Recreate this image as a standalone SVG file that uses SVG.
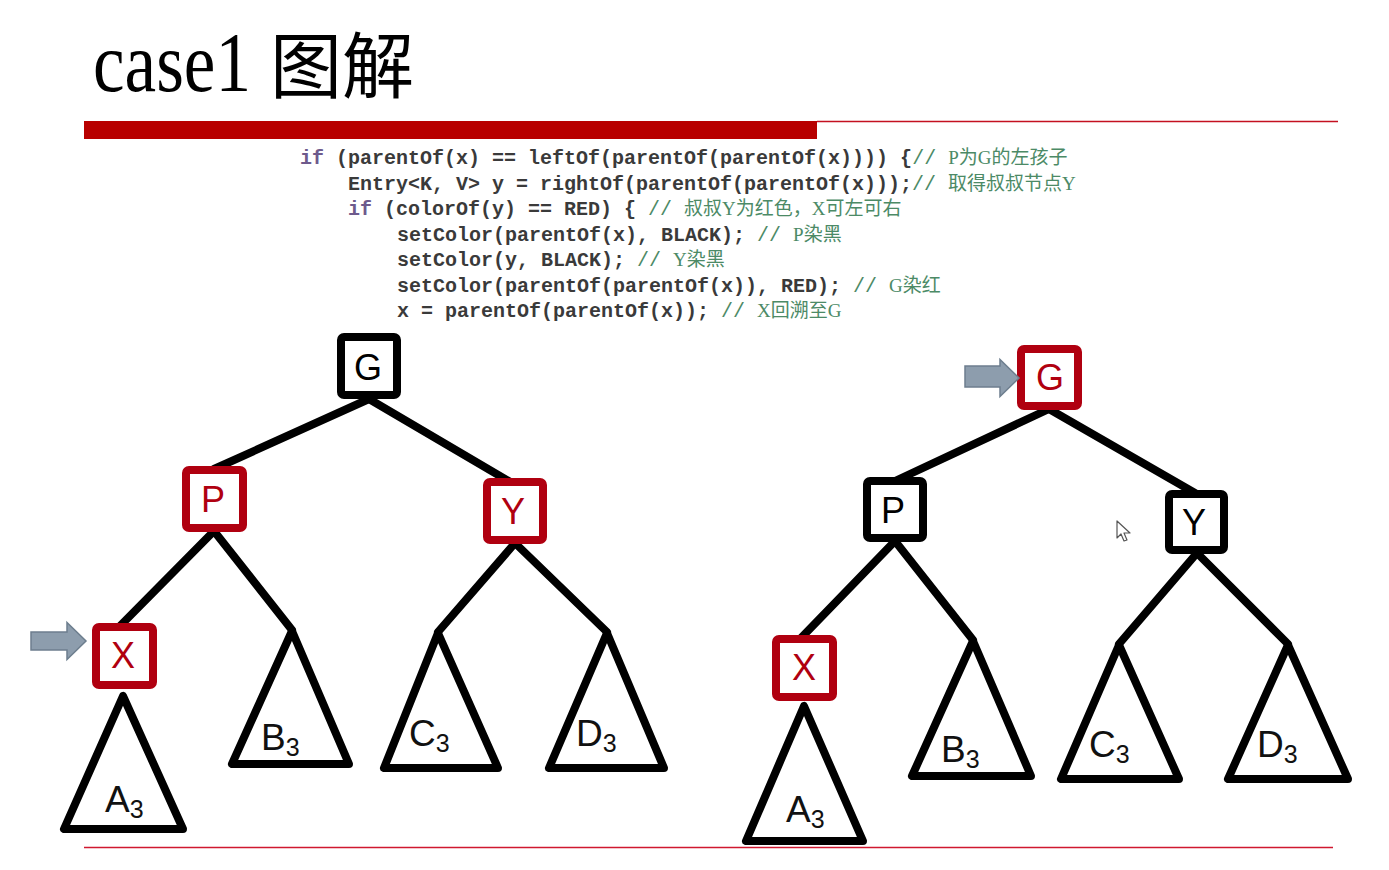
<svg xmlns="http://www.w3.org/2000/svg" width="1389" height="870" viewBox="0 0 1389 870">
<style>
.code{font-family:"Liberation Mono","Noto Sans CJK SC",monospace;font-size:20px;font-weight:bold;fill:#3a3a3a}
.kw{fill:#6e5a8c}
.cm{fill:#4c8a66;font-weight:normal}
.cmt{fill:#4c8a66;font-weight:normal;font-family:"Liberation Serif","Noto Sans CJK SC",serif;font-size:19px}
.box{fill:#fff;stroke-width:8;stroke-linejoin:round}
.blk{stroke:#000}
.red{stroke:#b00010}
.lbl{font-family:"Liberation Sans",Arial,sans-serif;font-size:36px;text-anchor:middle}
.lb{fill:#000}
.lr{fill:#b00010}
.edge{stroke:#000;stroke-width:8;stroke-linecap:round;fill:none}
.tri{fill:#fff;stroke:#000;stroke-width:8;stroke-linejoin:round}
.sub{font-family:"Liberation Sans",Arial,sans-serif;font-size:37px;fill:#111}
.sub tspan.n{font-size:25px}
.ptr{fill:#8d9dad;stroke:#6d7e8e;stroke-width:1.5}
</style>

<!-- title -->
<text x="93" y="91" fill="#000" font-family="Liberation Serif, serif" font-size="84" textLength="158" lengthAdjust="spacingAndGlyphs">case1</text>
<text x="270" y="92" fill="#000" font-family="Noto Sans CJK SC, sans-serif" font-size="72">图解</text>
<rect x="84" y="121" width="733" height="18" fill="#b80000"/>
<line x1="817" y1="121.5" x2="1338" y2="121.5" stroke="#c41020" stroke-width="1.5"/>
<line x1="84" y1="847.5" x2="1333" y2="847.5" stroke="#d01830" stroke-width="1.5"/>

<!-- code -->
<g id="code" class="code">
<text y="164"><tspan x="300" class="kw">if</tspan> (parentOf(x) == leftOf(parentOf(parentOf(x)))) {<tspan class="cm">// </tspan><tspan class="cmt">P为G的左孩子</tspan></text>
<text y="190"><tspan x="348">Entry&lt;K, V&gt; y = rightOf(parentOf(parentOf(x)));</tspan><tspan class="cm">// </tspan><tspan class="cmt">取得叔叔节点Y</tspan></text>
<text y="215"><tspan x="348" class="kw">if</tspan> (colorOf(y) == RED) { <tspan class="cm">// </tspan><tspan class="cmt">叔叔Y为红色，X可左可右</tspan></text>
<text y="241"><tspan x="397">setColor(parentOf(x), BLACK); </tspan><tspan class="cm">// </tspan><tspan class="cmt">P染黑</tspan></text>
<text y="266"><tspan x="397">setColor(y, BLACK); </tspan><tspan class="cm">// </tspan><tspan class="cmt">Y染黑</tspan></text>
<text y="292"><tspan x="397">setColor(parentOf(parentOf(x)), RED); </tspan><tspan class="cm">// </tspan><tspan class="cmt">G染红</tspan></text>
<text y="317"><tspan x="397">x = parentOf(parentOf(x)); </tspan><tspan class="cm">// </tspan><tspan class="cmt">X回溯至G</tspan></text>
</g>

<!-- connectors -->
<g id="connectors" class="edge">
<line x1="369" y1="399" x2="214" y2="469"/>
<line x1="369" y1="399" x2="512" y2="483"/>
<line x1="214" y1="531" x2="120" y2="626"/>
<line x1="214" y1="531" x2="292" y2="630"/>
<line x1="515" y1="543" x2="438" y2="632"/>
<line x1="515" y1="543" x2="607" y2="632"/>
<line x1="1049" y1="409" x2="895" y2="481"/>
<line x1="1049" y1="409" x2="1195" y2="493"/>
<line x1="895" y1="541" x2="801" y2="638"/>
<line x1="895" y1="541" x2="973" y2="640"/>
<line x1="1197" y1="553" x2="1119" y2="644"/>
<line x1="1197" y1="553" x2="1288" y2="644"/>
</g>

<!-- left tree -->
<g id="L-G"><rect class="box blk" x="341" y="337" width="56" height="58" rx="3"/><text class="lbl lb" x="368" y="380">G</text></g>
<g id="L-P"><rect class="box red" x="186" y="470" width="57" height="58" rx="3"/><text class="lbl lr" x="213" y="512">P</text></g>
<g id="L-Y"><rect class="box red" x="487" y="482" width="56" height="58" rx="3"/><text class="lbl lr" x="513" y="524">Y</text></g>
<g id="L-X"><rect class="box red" x="96" y="627" width="57" height="58" rx="3"/><text class="lbl lr" x="123" y="668">X</text></g>
<g id="L-A3"><polygon class="tri" points="123,696 64,829 183,829"/><text class="sub" x="105" y="812">A<tspan class="n" dy="6">3</tspan></text></g>
<g id="L-B3"><polygon class="tri" points="292,631 232,764 349,764"/><text class="sub" x="261" y="750">B<tspan class="n" dy="6">3</tspan></text></g>
<g id="L-C3"><polygon class="tri" points="438,633 384,768 498,768"/><text class="sub" x="409" y="746">C<tspan class="n" dy="6">3</tspan></text></g>
<g id="L-D3"><polygon class="tri" points="607,633 549,768 664,768"/><text class="sub" x="576" y="746">D<tspan class="n" dy="6">3</tspan></text></g>
<g id="L-ptr"><path class="ptr" d="M31,632 H67 V622.5 L86,641 L67,659.5 V650 H31 Z"/></g>

<!-- right tree -->
<g id="R-G"><rect class="box red" x="1021" y="349" width="57" height="57" rx="3"/><text class="lbl lr" x="1050" y="390">G</text></g>
<g id="R-P"><rect class="box blk" x="867" y="481" width="56" height="57" rx="3"/><text class="lbl lb" x="893" y="523">P</text></g>
<g id="R-Y"><rect class="box blk" x="1169" y="494" width="55" height="56" rx="3"/><text class="lbl lb" x="1194" y="535">Y</text></g>
<g id="R-X"><rect class="box red" x="776" y="639" width="57" height="58" rx="3"/><text class="lbl lr" x="804" y="680">X</text></g>
<g id="R-A3"><polygon class="tri" points="804,706 746,841 863,841"/><text class="sub" x="786" y="822">A<tspan class="n" dy="6">3</tspan></text></g>
<g id="R-B3"><polygon class="tri" points="973,641 912,776 1031,776"/><text class="sub" x="941" y="762">B<tspan class="n" dy="6">3</tspan></text></g>
<g id="R-C3"><polygon class="tri" points="1119,645 1061,779 1179,779"/><text class="sub" x="1089" y="757">C<tspan class="n" dy="6">3</tspan></text></g>
<g id="R-D3"><polygon class="tri" points="1288,645 1228,779 1348,779"/><text class="sub" x="1257" y="757">D<tspan class="n" dy="6">3</tspan></text></g>
<g id="R-ptr"><path class="ptr" d="M965,366 H1000 V359.5 L1019,378 L1000,396.5 V387 H965 Z"/></g>

<!-- mouse cursor -->
<path d="M1117,521 V538 L1121,534 L1124,541 L1127,540 L1124,533 L1130,533 Z" fill="#fff" stroke="#555" stroke-width="1.2" stroke-linejoin="round"/>
</svg>
